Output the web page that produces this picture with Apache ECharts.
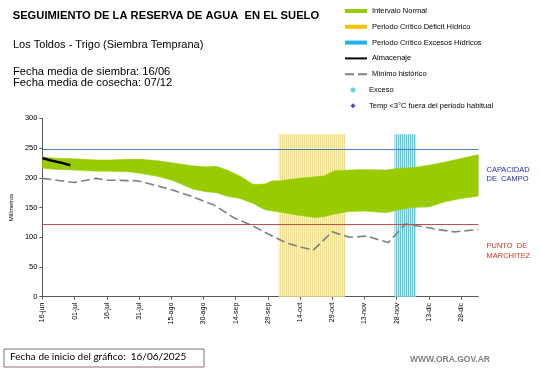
<!DOCTYPE html>
<html>
<head>
<meta charset="utf-8">
<script src="https://cdn.jsdelivr.net/npm/echarts@6/dist/echarts.min.js"></script>
<style>
html,body{margin:0;padding:0;background:#fff;}
#chart{width:541px;height:368px;}
</style>
</head>
<body>
<div id="chart"></div>
<script>
// ---- Data (days counted from 16-jun-2025) ----
var startDate = [2025, 5, 16];
var axisEndDay = 203;
var tickDays = [0, 15, 30, 45, 60, 75, 90, 105, 120, 135, 150, 165, 180, 195];
var monthNames = ['ene','feb','mar','abr','may','jun','jul','ago','sep','oct','nov','dic'];

var bandDays  = [0, 7, 15, 25, 31, 40, 46, 54, 61, 70, 76, 81, 86, 92, 98, 101, 104, 107, 111, 119, 127, 131, 136, 142, 150, 160, 165, 172, 180, 188, 195, 203];
var bandUpper = [235, 233, 232, 230, 230, 231, 231, 228.5, 225, 220, 218.5, 219.5, 213, 203, 189, 189, 190, 195, 195, 199, 201.5, 203, 212, 213, 214, 213, 215.5, 217, 221, 227, 232.5, 239];
var bandLower = [216, 214, 213, 211, 211, 210, 207, 202, 195, 181, 176.5, 175, 169, 165, 157, 151, 146, 144, 142, 137, 133, 134.5, 139, 143, 144, 141, 145.5, 150, 151, 160, 165, 169];

var minDays   = [0, 15, 25, 30, 44, 52, 61, 70, 80, 89, 98, 107, 114, 126, 135, 143, 151, 161, 169, 177, 184, 192, 203];
var minValues = [199, 192, 199, 196, 195, 188, 179, 168, 154, 133, 119, 102, 90, 78, 109, 100, 102, 91, 122, 118, 113, 109, 113];

var storageDays   = [0, 4, 9, 13];
var storageValues = [233, 229, 225, 221];

var deficitPeriod = [110, 141];
var excessPeriod  = [164, 174];
var periodTop = 273;

var fieldCapacity = 248;
var wiltingPoint = 121;

// ---- helpers ----
function dayLabel(d) {
  var dt = new Date(startDate[0], startDate[1], startDate[2] + d);
  var dd = dt.getDate();
  return (dd < 10 ? '0' + dd : '' + dd) + '-' + monthNames[dt.getMonth()];
}
function zip(xs, ys) { return xs.map(function (x, i) { return [x, ys[i]]; }); }
function stripe(line, bg) {
  var c = document.createElement('canvas');
  c.width = 2; c.height = 1;
  var g = c.getContext('2d');
  g.fillStyle = bg; g.fillRect(0, 0, 2, 1);
  g.fillStyle = line; g.fillRect(0, 0, 1, 1);
  return c;
}

var bandRows = bandDays.map(function (d, i) { return [d, bandUpper[i], bandLower[i]]; });

function renderBand(params, api) {
  if (params.dataIndex !== 0) return null;
  var pts = [];
  for (var i = 0; i < bandDays.length; i++) pts.push(api.coord([bandDays[i], bandUpper[i]]));
  for (var j = bandDays.length - 1; j >= 0; j--) pts.push(api.coord([bandDays[j], bandLower[j]]));
  return {
    type: 'polygon',
    shape: {points: pts},
    style: {fill: '#99cc00', stroke: '#99cc00', lineWidth: 0.5}
  };
}

var chart = echarts.init(document.getElementById('chart'), null, {renderer: 'canvas'});
var FF = 'Liberation Sans, Arial, sans-serif';

var option = {
  animation: false,
  textStyle: {fontFamily: FF},
  grid: {left: 32.7, right: 62.7, top: 118.3, bottom: 71.3},
  xAxis: {
    type: 'value', min: 0, max: axisEndDay,
    splitLine: {show: false},
    axisLine: {lineStyle: {color: '#595959', width: 1}},
    axisTick: {length: 3, customValues: tickDays, lineStyle: {color: '#595959'}},
    axisLabel: {customValues: tickDays, rotate: 90, fontSize: 7, color: '#000', margin: 6, fontFamily: FF,
      formatter: function (v) { return dayLabel(v); }}
  },
  yAxis: {
    type: 'value', min: 0, max: 300, interval: 50,
    name: 'Milímetros', nameLocation: 'middle', nameRotate: 90, nameGap: 22,
    nameTextStyle: {fontSize: 6, color: '#000', fontFamily: FF},
    splitLine: {show: false},
    axisLine: {show: true, lineStyle: {color: '#595959', width: 1}},
    axisTick: {show: true, length: 3, lineStyle: {color: '#595959'}},
    axisLabel: {fontSize: 7.5, color: '#000', margin: 5, fontFamily: FF}
  },
  legend: [{
    orient: 'vertical', left: 344, top: 6, padding: 0,
    itemWidth: 22, itemHeight: 4, itemGap: 5.8,
    textStyle: {fontSize: 7.5, lineHeight: 10, color: '#000', fontFamily: FF},
    data: [
      {name: 'Intervalo Normal', icon: 'rect'},
      {name: 'Periodo Crítico Déficit Hídrico', icon: 'rect'},
      {name: 'Periodo Crítico Excesos Hídricos', icon: 'rect'},
      {name: 'Almacenaje', itemStyle: {opacity: 0}},
      {name: 'Mínimo histórico', itemStyle: {opacity: 0}}
    ]
  }, {
    orient: 'vertical', left: 350.5, top: 85, padding: 0,
    itemWidth: 5, itemHeight: 5, itemGap: 5.8,
    textStyle: {fontSize: 7.5, lineHeight: 10, color: '#000', fontFamily: FF, padding: [0, 0, 0, 8.5]},
    data: [
      {name: 'Exceso', icon: 'circle'},
      {name: 'Temp <3°C fuera del periodo habitual', icon: 'diamond'}
    ]
  }],
  series: [
    {
      name: 'Periodo Crítico Déficit Hídrico', type: 'line', data: [], z: 1,
      color: '#f5c000', itemStyle: {color: '#f5c000'}, lineStyle: {color: '#f5c000'},
      markArea: {silent: true,
        itemStyle: {color: {image: stripe('#f1df7a', '#fbf4c0'), repeat: 'repeat'}},
        data: [[{xAxis: deficitPeriod[0], yAxis: 0}, {xAxis: deficitPeriod[1], yAxis: periodTop}]]}
    },
    {
      name: 'Periodo Crítico Excesos Hídricos', type: 'line', data: [], z: 1,
      color: '#1db4e8', itemStyle: {color: '#1db4e8'}, lineStyle: {color: '#1db4e8'},
      markArea: {silent: true,
        itemStyle: {color: {image: stripe('#5ccbde', '#b9edf4'), repeat: 'repeat'}},
        data: [[{xAxis: excessPeriod[0], yAxis: 0}, {xAxis: excessPeriod[1], yAxis: periodTop}]]}
    },
    {
      name: 'Intervalo Normal', type: 'custom', z: 2, silent: true,
      color: '#99cc00', itemStyle: {color: '#99cc00'},
      renderItem: renderBand,
      encode: {x: 0, y: [1, 2]},
      data: bandRows
    },
    {
      name: 'Mínimo histórico', type: 'line', data: zip(minDays, minValues), z: 4,
      symbol: 'none', color: '#808080',
      lineStyle: {color: '#808080', width: 1.6, type: [9, 4]}
    },
    {
      name: 'Almacenaje', type: 'line', data: zip(storageDays, storageValues), z: 5,
      symbol: 'none', color: '#000', lineStyle: {color: '#000', width: 2.5},
      markLine: {silent: true, symbol: 'none', label: {show: false},
        data: [
          {yAxis: fieldCapacity, lineStyle: {color: '#4f7fc6', width: 1, type: 'solid'}},
          {yAxis: wiltingPoint, lineStyle: {color: '#c0504d', width: 1, type: 'solid'}}
        ]}
    },
    {name: 'Exceso', type: 'scatter', data: [], color: '#33ccee', symbol: 'circle', symbolSize: 4},
    {name: 'Temp <3°C fuera del periodo habitual', type: 'scatter', data: [], color: '#1a1aa8', symbol: 'diamond', symbolSize: 5}
  ],
  graphic: [
    {type: 'text', left: 12.7, top: 10, style: {text: 'SEGUIMIENTO DE LA RESERVA DE AGUA  EN EL SUELO', fontSize: 11.2, fontWeight: 'bold', fill: '#000', fontFamily: FF}},
    {type: 'text', left: 13, top: 39, style: {text: 'Los Toldos - Trigo (Siembra Temprana)', fontSize: 11, fill: '#000', fontFamily: FF}},
    {type: 'text', left: 13, top: 66, style: {text: 'Fecha media de siembra: 16/06\nFecha media de cosecha: 07/12', fontSize: 11.2, lineHeight: 11.3, fill: '#000', fontFamily: FF}},
    {type: 'text', left: 486.5, top: 165.5, style: {text: 'CAPACIDAD\nDE  CAMPO', fontSize: 7.5, lineHeight: 9, fill: '#2b2ba6', fontFamily: FF}},
    {type: 'text', left: 486.5, top: 241.5, style: {text: 'PUNTO  DE\nMARCHITEZ', fontSize: 7.5, lineHeight: 9.5, fill: '#c0392b', fontFamily: FF}},
    {type: 'rect', left: 3.5, top: 348.5, shape: {width: 200, height: 18}, style: {fill: '#fff', stroke: '#8d6f6f', lineWidth: 1}},
    {type: 'text', left: 10, top: 351.5, style: {text: 'Fecha de inicio del gráfico:  16/06/2025', fontSize: 10, fill: '#000', fontFamily: 'Lato, sans-serif'}},
    {type: 'text', left: 410, top: 355, style: {text: 'WWW.ORA.GOV.AR', fontSize: 8.5, fontWeight: 'bold', fill: '#7f7f7f', fontFamily: FF}}
  ]
};
chart.setOption(option);
</script>
</body>
</html>
